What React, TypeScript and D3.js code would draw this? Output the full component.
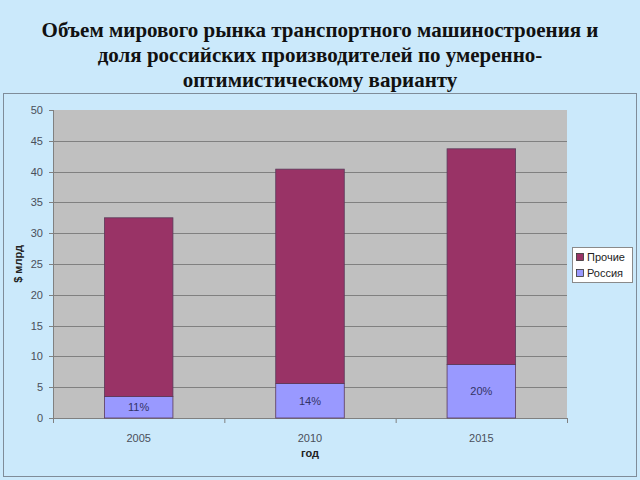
import React from "react";
import * as d3 from "d3";

const years = ["2005", "2010", "2015"];
const russia = [3.5, 5.6, 8.7];
const others = [29.0, 34.8, 35.0];
const shareLabels = ["11%", "14%", "20%"];
const yTicks = [0, 5, 10, 15, 20, 25, 30, 35, 40, 45, 50];
const seriesNames = ["Прочие", "Россия"];
const titleLines = [
  "Объем мирового рынка транспортного машиностроения и",
  "доля российских производителей по умеренно-",
  "оптимистическому варианту",
];

const W = 640;
const H = 480;
const plot = { left: 53, right: 567, top: 110, bottom: 418 };
const colOther = "#993366";
const colRussia = "#9999FF";
const bg = "#CBE9FB";

export default function App() {
  const x = d3.scaleBand<string>().domain(years).range([plot.left, plot.right]).padding(0);
  const y = d3.scaleLinear().domain([0, 50]).range([plot.bottom, plot.top]);
  const bw = x.bandwidth() * 0.4;
  const off = x.bandwidth() * 0.3;

  const stackData = years.map((yr, i) => ({ year: yr, russia: russia[i], others: others[i] }));
  const stack = d3.stack<any>().keys(["russia", "others"])(stackData);
  const colors: Record<string, string> = { russia: colRussia, others: colOther };

  const font = "Arial, 'Liberation Sans', sans-serif";
  const textCol = "#4a4f5a";

  return (
    <svg width={W} height={H} style={{ position: "absolute", left: 0, top: 0 }} fontFamily={font}>
      <rect x={0} y={0} width={W} height={H} fill={bg} />
      {titleLines.map((t, i) => (
        <text
          key={i}
          x={320}
          y={37 + i * 25}
          textAnchor="middle"
          fontFamily="'Liberation Serif', 'Times New Roman', serif"
          fontWeight="bold"
          fontSize={21}
          fill="#111"
        >
          {t}
        </text>
      ))}
      <rect x={3.5} y={93.5} width={633} height={383} fill="none" stroke="#7f8c99" strokeWidth={1} />
      <rect x={plot.left} y={plot.top} width={plot.right - plot.left} height={plot.bottom - plot.top} fill="#C0C0C0" />
      {yTicks.slice(1, -1).map((t) => (
        <line key={t} x1={plot.left} x2={plot.right} y1={Math.round(y(t)) + 0.5} y2={Math.round(y(t)) + 0.5} stroke="#808080" strokeWidth={1} />
      ))}
      {yTicks.map((t) => (
        <g key={"yt" + t}>
          <line x1={plot.left - 4} x2={plot.left} y1={Math.round(y(t)) + 0.5} y2={Math.round(y(t)) + 0.5} stroke="#808080" />
          <text x={plot.left - 10} y={y(t) + 4} textAnchor="end" fontSize={11} fill={textCol}>
            {t}
          </text>
        </g>
      ))}
      <line x1={plot.left + 0.5} x2={plot.left + 0.5} y1={plot.top} y2={plot.bottom} stroke="#808080" />
      <line x1={plot.left} x2={plot.right} y1={plot.bottom + 0.5} y2={plot.bottom + 0.5} stroke="#808080" />
      {[plot.left, ...years.map((yr) => (x(yr) as number) + x.bandwidth())].map((px, i) => (
        <line key={"xt" + i} x1={px + 0.5} x2={px + 0.5} y1={plot.bottom} y2={plot.bottom + 5} stroke="#808080" />
      ))}
      {stack.map((layer) =>
        layer.map((d, i) => (
          <rect
            key={layer.key + i}
            x={(x(years[i]) as number) + off}
            y={y(d[1])}
            width={bw}
            height={y(d[0]) - y(d[1])}
            fill={colors[layer.key]}
            stroke="#5a3a5a"
            strokeWidth={0.8}
          />
        ))
      )}
      {years.map((yr, i) => (
        <text key={"pl" + i} x={(x(yr) as number) + x.bandwidth() / 2} y={(y(0) + y(russia[i])) / 2 + 4} textAnchor="middle" fontSize={11} fill="#333366">
          {shareLabels[i]}
        </text>
      ))}
      {years.map((yr) => (
        <text key={"xl" + yr} x={(x(yr) as number) + x.bandwidth() / 2} y={442} textAnchor="middle" fontSize={11} fill={textCol}>
          {yr}
        </text>
      ))}
      <text x={310} y={457} textAnchor="middle" fontSize={11} fontWeight="bold" fill="#222">
        год
      </text>
      <text transform={`translate(22,${(plot.top + plot.bottom) / 2}) rotate(-90)`} textAnchor="middle" fontSize={11} fontWeight="bold" fill="#222">
        $ млрд
      </text>
      <rect x={572.5} y={247.5} width={60} height={35} fill="#fff" stroke="#8a8a8a" />
      {seriesNames.map((n, i) => (
        <g key={n}>
          <rect x={576.5} y={253.5 + i * 16} width={7} height={7} fill={i === 0 ? colOther : colRussia} stroke="#333" strokeWidth={0.8} />
          <text x={587} y={261 + i * 16} fontSize={11} fill="#222">
            {n}
          </text>
        </g>
      ))}
    </svg>
  );
}
